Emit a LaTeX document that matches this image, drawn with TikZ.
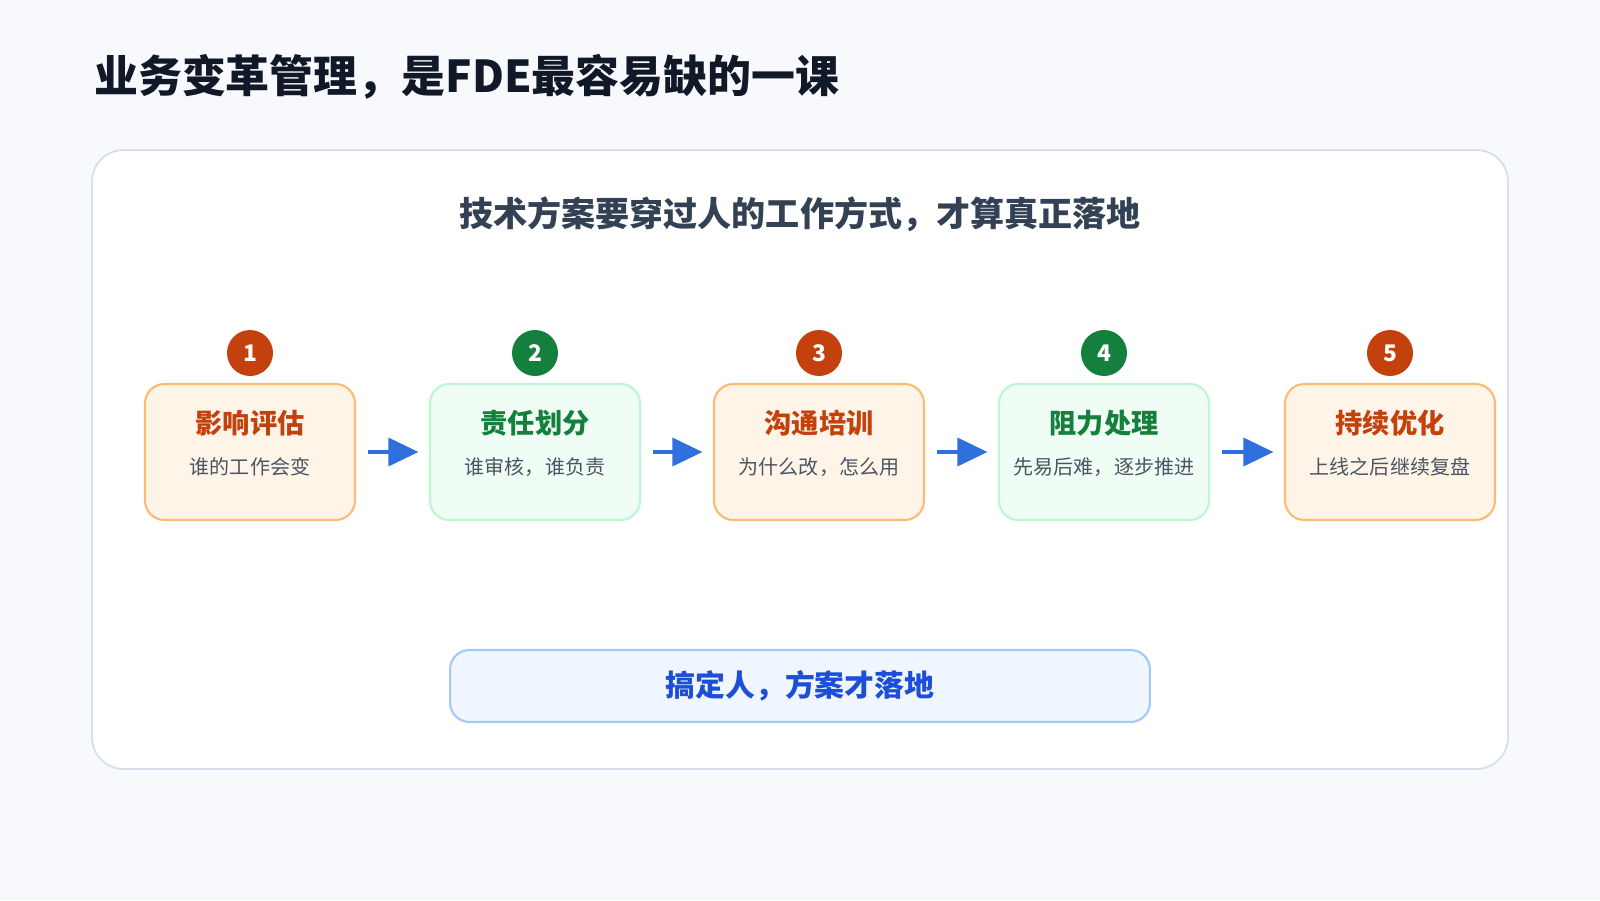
\documentclass[tikz,border=0pt]{standalone}
\usepackage{fontspec}
\setmainfont{Noto Sans CJK SC}
\usetikzlibrary{positioning,arrows.meta}
\definecolor{bgcol}{HTML}{F7F9FC}
\definecolor{titlecol}{HTML}{111827}
\definecolor{subcol}{HTML}{334155}
\definecolor{cardline}{HTML}{D6DEEA}
\definecolor{orfill}{HTML}{FFF4E8}
\definecolor{orline}{HTML}{FDBA74}
\definecolor{ortext}{HTML}{C2410C}
\definecolor{grfill}{HTML}{F0FDF4}
\definecolor{grline}{HTML}{BBF7D0}
\definecolor{grtext}{HTML}{15803D}
\definecolor{arrowcol}{HTML}{2F6FDE}
\definecolor{blfill}{HTML}{EFF6FF}
\definecolor{blline}{HTML}{A5C8FA}
\definecolor{bltext}{HTML}{1D4ED8}
\definecolor{notecol}{HTML}{4B5563}
\tikzset{
  step/.style={draw=#1line, fill=#1fill, line width=1.2pt, rounded corners=11pt,
    minimum width=4.2cm, minimum height=2.72cm},
  badge/.style={circle, fill=#1text, text=white, minimum size=0.92cm, inner sep=0pt,
    font=\fontsize{13}{15}\selectfont\bfseries},
  steptitle/.style={text=#1text, font=\fontsize{15.5}{18}\selectfont\bfseries},
  stepnote/.style={text=notecol, font=\fontsize{11.4}{13}\selectfont},
  flow/.style={arrowcol, line width=2pt, -{Triangle[length=0.6cm,width=0.56cm]}}
}
\begin{document}
\begin{tikzpicture}[x=0.02cm,y=-0.02cm]
	\fill[bgcol] (0,0) rectangle (1600,900);
	\useasboundingbox (0,0) rectangle (1600,900);
	\node[anchor=west, text=titlecol, font=\fontsize{25}{28}\selectfont\bfseries] (title) at (88,77) {业务变革管理，是FDE最容易缺的一课};
	\draw[cardline, fill=white, line width=1pt, rounded corners=18pt] (92,150) rectangle (1508,769);
	\node[text=subcol, font=\fontsize{19.4}{22}\selectfont\bfseries] (sub) at (800,214) {技术方案要穿过人的工作方式，才算真正落地};
	% steps
	\foreach \i/\x/\c/\t/\n in {1/250/or/影响评估/谁的工作会变, 2/535/gr/责任划分/谁审核，谁负责,
	  3/819/or/沟通培训/为什么改，怎么用, 4/1104/gr/阻力处理/先易后难，逐步推进, 5/1390/or/持续优化/上线之后继续复盘} {
		\node[step=\c] (s\i) at (\x,452) {};
		\node[badge=\c] (b\i) at (\x,353) {\i};
		\node[steptitle=\c] (t\i) at (\x,423) {\t};
		\node[stepnote] (n\i) at (\x,467) {\n};
	}
	\foreach \a/\b in {1/2,2/3,3/4,4/5}
		\draw[flow] ([xshift=7pt]s\a.east) -- ([xshift=-6pt]s\b.west);
	\node[draw=blline, fill=blfill, line width=1.2pt, rounded corners=11pt, minimum width=14cm,
	  minimum height=1.44cm, text=bltext, font=\fontsize{17}{20}\selectfont\bfseries] (goal) at (800,686) {搞定人，方案才落地};
\end{tikzpicture}
\end{document}
